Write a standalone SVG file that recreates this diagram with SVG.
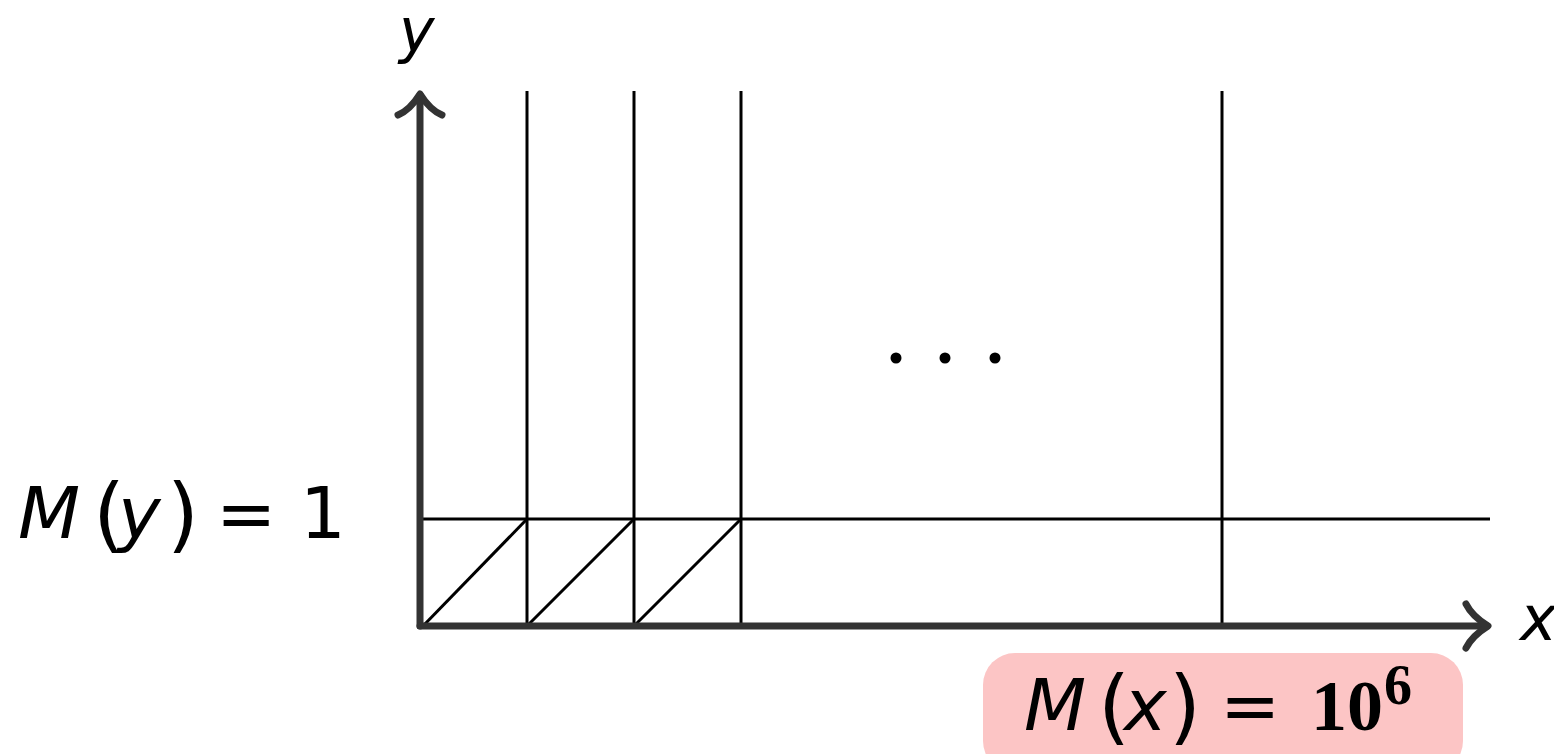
<svg xmlns="http://www.w3.org/2000/svg" width="1554" height="754" viewBox="0 0 1554 754">
<style>
.ax{stroke:#333;stroke-width:7;fill:none;stroke-linecap:round;stroke-linejoin:round}
.ln{stroke:#000;stroke-width:3;fill:none}
.it{font-family:"DejaVu Sans",sans-serif;font-style:italic;fill:#000}
.rm{font-family:"DejaVu Sans",sans-serif;fill:#000}
.bd{font-family:"Liberation Serif",serif;font-weight:bold;fill:#000}
</style>
<rect width="1554" height="754" fill="#fff"/>
<g id="grid">
<line class="ln" x1="527" y1="91" x2="527" y2="626"/>
<line class="ln" x1="634" y1="91" x2="634" y2="626"/>
<line class="ln" x1="741" y1="91" x2="741" y2="626"/>
<line class="ln" x1="1222" y1="91" x2="1222" y2="626"/>
<line class="ln" x1="423" y1="519" x2="1490" y2="519"/>
<line class="ln" x1="423" y1="626" x2="527" y2="519"/>
<line class="ln" x1="527" y1="626" x2="634" y2="519"/>
<line class="ln" x1="634" y1="626" x2="741" y2="519"/>
</g>
<g id="connectors">
<path class="ax" d="M420 626 L420 95"/>
<path class="ax" d="M398 115 Q410 110 420 94 Q430 110 442 115"/>
<path class="ax" d="M420 626 L1487 626"/>
<path class="ax" d="M1466 604 Q1472 616 1488 626 Q1472 636 1466 648"/>
</g>
<g id="dots">
<circle cx="896" cy="358" r="5.5" fill="#000"/>
<circle cx="945" cy="358" r="5.5" fill="#000"/>
<circle cx="995" cy="358" r="5.5" fill="#000"/>
</g>
<g id="label-y">
<text class="it" x="399" y="52" font-size="60">y</text>
</g>
<g id="label-x">
<text class="it" x="1520" y="640" font-size="62">x</text>
</g>
<g id="label-My">
<text font-size="72" y="538"><tspan class="it" x="18">M</tspan><tspan class="rm" x="93" y="542" font-size="82">(</tspan><tspan class="it" x="118" y="538">y</tspan><tspan class="rm" x="167" y="542" font-size="82">)</tspan><tspan class="rm" x="216" y="538">=</tspan><tspan class="rm" x="300">1</tspan></text>
</g>
<g id="label-Mx">
<rect x="983" y="653" width="480" height="120" rx="32" fill="#fcc5c5"/>
<text font-size="72" y="730"><tspan class="it" x="1024">M</tspan><tspan class="rm" x="1098" y="734" font-size="82">(</tspan><tspan class="it" x="1124" y="730">x</tspan><tspan class="rm" x="1169" y="734" font-size="82">)</tspan><tspan class="rm" x="1220" y="730">=</tspan><tspan class="bd" x="1311" font-size="72">10</tspan></text>
<text class="bd" x="1384" y="704" font-size="56">6</text>
</g>
</svg>
